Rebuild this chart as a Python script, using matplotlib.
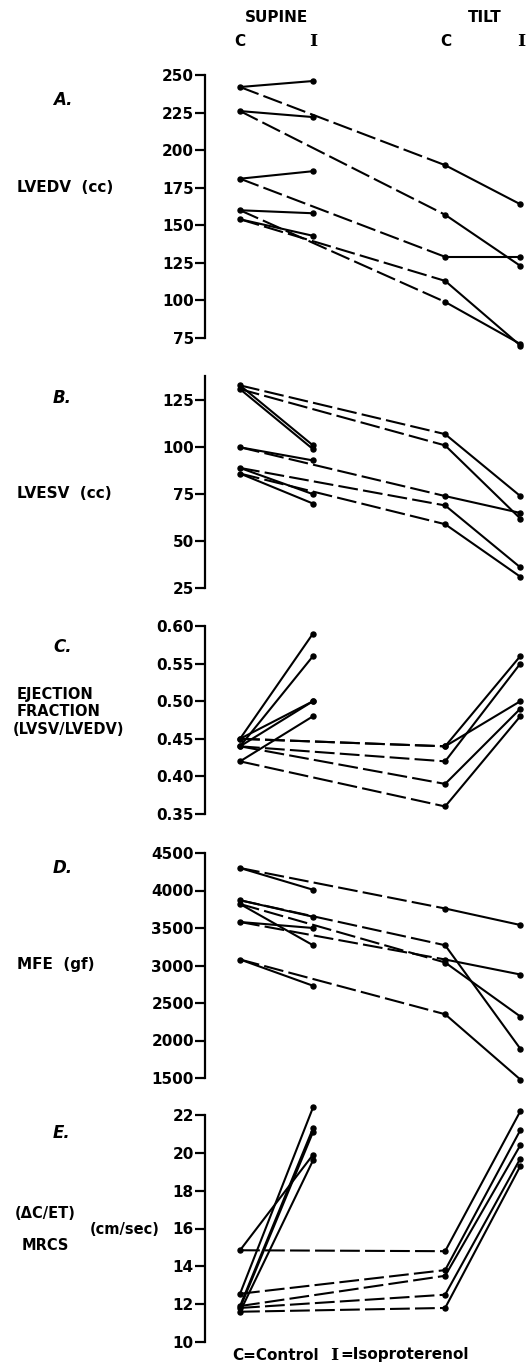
import matplotlib
matplotlib.use("Agg")
import matplotlib.pyplot as plt

# ---------------- data ----------------
x_positions = [0, 1, 2.81, 3.84]  # supine C, supine I, tilt C, tilt I

lvedv_sup_c = [242, 226, 181, 160, 154]
lvedv_sup_i = [246, 222, 186, 158, 143]
lvedv_tilt_c = [190, 157, 129, 99, 113]
lvedv_tilt_i = [164, 123, 129, 71, 70]

lvesv_sup_c = [133, 131, 100, 89, 86]
lvesv_sup_i = [101, 99, 93, 75, 70]
lvesv_tilt_c = [107, 101, 74, 69, 59]
lvesv_tilt_i = [74, 62, 65, 36, 31]

ef_sup_c = [0.45, 0.44, 0.44, 0.45, 0.42]
ef_sup_i = [0.59, 0.56, 0.50, 0.50, 0.48]
ef_tilt_c = [0.44, 0.42, 0.39, 0.44, 0.36]
ef_tilt_i = [0.56, 0.55, 0.49, 0.50, 0.48]

mfe_sup_c = [4300, 3870, 3820, 3580, 3080]
mfe_sup_i = [4010, 3650, 3270, 3500, 2730]
mfe_tilt_c = [3760, 3270, 3040, 3080, 2350]
mfe_tilt_i = [3540, 1890, 2320, 2880, 1480]

mrcs_sup_c = [14.85, 12.55, 11.9, 11.8, 11.6]
mrcs_sup_i = [19.9, 22.4, 21.3, 21.1, 19.6]
mrcs_tilt_c = [14.8, 13.8, 13.5, 12.5, 11.8]
mrcs_tilt_i = [22.2, 21.2, 20.4, 19.7, 19.3]

ticks_a = [75, 100, 125, 150, 175, 200, 225, 250]
ticks_b = [25, 50, 75, 100, 125]
ticks_c = [0.35, 0.40, 0.45, 0.50, 0.55, 0.60]
ticks_d = [1500, 2000, 2500, 3000, 3500, 4000, 4500]
ticks_e = [10, 12, 14, 16, 18, 20, 22]

# ---------------- figure ----------------
W, H = 532, 1365
fig = plt.figure(figsize=(W / 100, H / 100), dpi=100)
fig.patch.set_facecolor("white")
FONT = "DejaVu Sans"
SERIF = "DejaVu Serif"


def add_panel(top_px, bot_px, ylim, ticks, fmt, sc, si, tc, ti):
    ax = fig.add_axes([205 / W, 1 - bot_px / H, (W - 205) / W, (bot_px - top_px) / H])
    ax.set_xlim(-0.48, 4.0)
    ax.set_ylim(*ylim)
    for s in ["top", "right", "bottom"]:
        ax.spines[s].set_visible(False)
    ax.spines["left"].set_linewidth(1.6)
    ax.set_xticks([])
    ax.set_yticks(ticks)
    ax.set_yticklabels([fmt(t) for t in ticks], fontweight="bold", fontsize=11, family=FONT)
    ax.tick_params(axis="y", direction="out", length=7, width=1.6, pad=1)
    ax.patch.set_alpha(0)
    x0, x1, x2, x3 = x_positions
    for a, b, c, d in zip(sc, si, tc, ti):
        ax.plot([x0, x1], [a, b], color="black", lw=1.5, clip_on=False, solid_capstyle="round")
        ax.plot([x0, x2], [a, c], color="black", lw=1.5, dashes=(9.5, 2.5), clip_on=False)
        ax.plot([x2, x3], [c, d], color="black", lw=1.5, clip_on=False, solid_capstyle="round")
        ax.plot([x0, x1, x2, x3], [a, b, c, d], "o", color="black", ms=3.6, clip_on=False, zorder=5)
    return ax


add_panel(75, 338, (75, 250), ticks_a, lambda t: f"{t}",
          lvedv_sup_c, lvedv_sup_i, lvedv_tilt_c, lvedv_tilt_i)
add_panel(376, 588, (25, 138), ticks_b, lambda t: f"{t}",
          lvesv_sup_c, lvesv_sup_i, lvesv_tilt_c, lvesv_tilt_i)
add_panel(626, 814, (0.35, 0.60), ticks_c, lambda t: f"{t:.2f}",
          ef_sup_c, ef_sup_i, ef_tilt_c, ef_tilt_i)
add_panel(853, 1078, (1500, 4500), ticks_d, lambda t: f"{t}",
          mfe_sup_c, mfe_sup_i, mfe_tilt_c, mfe_tilt_i)
add_panel(1115, 1342, (10, 22), ticks_e, lambda t: f"{t}",
          mrcs_sup_c, mrcs_sup_i, mrcs_tilt_c, mrcs_tilt_i)


def ftext(x, y, s, size=11, ha="left", va="center", style="normal", family=FONT):
    fig.text(x / W, 1 - y / H, s, fontsize=size, fontweight="bold", ha=ha, va=va,
             family=family, style=style)


# headers
ftext(277, 17, "SUPINE", ha="center")
ftext(485, 17, "TILT", ha="center")
ftext(240, 42, "C", ha="center")
ftext(313, 42, "I", ha="center", family=SERIF, size=12.5)
ftext(446, 42, "C", ha="center")
ftext(521, 42, "I", ha="center", family=SERIF, size=12.5)

# panel labels
for y, s in [(100, "A."), (398, "B."), (647, "C."), (868, "D."), (1133, "E.")]:
    ftext(53, y, s, size=12, style="italic")

ftext(17, 187, "LVEDV  (cc)")
ftext(17, 493, "LVESV  (cc)")
ftext(17, 694, "EJECTION", size=10.5)
ftext(17, 711, "FRACTION", size=10.5)
ftext(13, 729, "(LVSV/LVEDV)", size=10.5)
ftext(17, 965, "MFE  (gf)")
ftext(15, 1213, "(\u0394C/ET)", size=10.5)
ftext(90, 1230, "(cm/sec)", size=10.5)
ftext(22, 1245, "MRCS", size=10.5)

# key
ftext(232, 1355, "C=Control", size=11)
ftext(330, 1355, "I", size=12.5, family=SERIF)
ftext(340, 1355, "=Isoproterenol", size=11)

fig.savefig("out.png", dpi=100, facecolor="white")
